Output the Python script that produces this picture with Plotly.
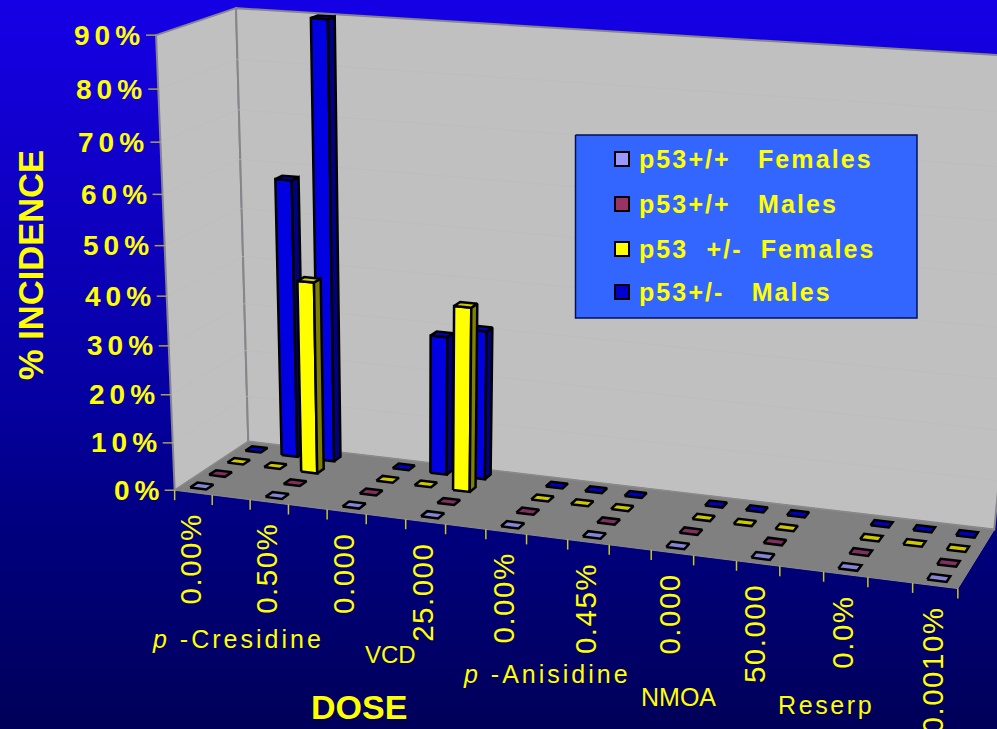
import numpy as np
import plotly.graph_objects as go

# ---- chart data -------------------------------------------------------
series_names = ["p53+/+   Females", "p53+/+   Males", "p53  +/-  Females", "p53+/-   Males"]
wt_females = [0, None, 0, None, 0, None, 0, None, 0, None, 0, None, 0, None, 0, None, 0, None, 0]
wt_males = [0, None, 0, None, 0, None, 0, None, 0, None, 0, None, 0, None, 0, None, 0, None, 0]
het_females = [0, 0, 40, None, 0, 0, 38, None, 0, 0, 0, None, 0, 0, 0, None, 0, 0, 0]
het_males = [0, 58, 90, None, 0, 29, 31, None, 0, 0, 0, None, 0, 0, 0, None, 0, 0, 0]
dose_labels = ["0.00%", "0.50%", "0.000", "25.000", "0.00%", "0.45%", "0.000", "50.000", "0.0%", "0.0010%"]
percent_ticks = [0, 10, 20, 30, 40, 50, 60, 70, 80, 90]

all_series = [wt_females, wt_males, het_females, het_males]
n_cat = len(wt_females)
n_row = len(all_series)
z_max = percent_ticks[-1]

# face colours per series: front, side, top
face_colors = [
    ("#9999FF", "#4C4C80", "#8585D8"),
    ("#993366", "#4C1933", "#7F2F60"),
    ("#FFFF00", "#808000", "#CFC800"),
    ("#0000E0", "#000080", "#0000C0"),
]
legend_colors = ["#9999FF", "#993366", "#FFFF00", "#0000CC"]
YELLOW = "#FFFF00"
WALL = "#C0C0C0"
FLOOR = "#808080"
EDGE = "#85858A"
GRID = "#BCBCBC"
TICK = "#C8C820"

# ---- view: pinhole projection of the chart box onto the page ----------
view_world = np.array([
    (0, 0, 0), (0, 0, z_max), (0, n_row, 0), (0, n_row, z_max),
    (n_cat, 0, 0), (n_cat, n_row, 0), (n_cat, n_row, z_max),
], float)
view_page = np.array([
    (175, 490), (156.5, 34), (248, 442), (235.5, 9),
    (957, 590), (995, 528), (1040, 58),
], float)


def fit_projection(world, page):
    rows, rhs = [], []
    for (X, Y, Z), (u, v) in zip(world, page):
        rows.append([X, Y, Z, 1, 0, 0, 0, 0, -u * X, -u * Y, -u * Z])
        rows.append([0, 0, 0, 0, X, Y, Z, 1, -v * X, -v * Y, -v * Z])
        rhs += [u, v]
    sol = np.linalg.lstsq(np.array(rows), np.array(rhs), rcond=None)[0]
    return np.append(sol, 1).reshape(3, 4)


PROJ = fit_projection(view_world, view_page)


def project(X, Y, Z):
    h = PROJ @ np.array([X, Y, Z, 1.0])
    return h[0] / h[2], h[1] / h[2]


def polygon(points, fill, line_color="#000000", line_width=2.5):
    xy = [project(*p) for p in points]
    xy.append(xy[0])
    return go.Scatter(
        x=[p[0] for p in xy], y=[p[1] for p in xy], mode="lines", fill="toself",
        fillcolor=fill, line=dict(color=line_color, width=line_width),
        hoverinfo="skip", showlegend=False,
    )


def segment(a, b, color, width=1):
    pa, pb = project(*a), project(*b)
    return go.Scatter(x=[pa[0], pb[0]], y=[pa[1], pb[1]], mode="lines",
                      line=dict(color=color, width=width), hoverinfo="skip", showlegend=False)


fig = go.Figure()

# vertical blue backdrop
grad_y = [0, 120, 260, 400, 530, 640, 729]
grad_v = [0, 1, 2, 3, 4, 5, 6]
grad_c = ["#1500E6", "#1200D0", "#0C00B8", "#0500A0", "#00007E", "#00006A", "#000058"]
fig.add_trace(go.Heatmap(
    x=[0, 997], y=grad_y, z=[[v, v] for v in grad_v], zsmooth="best", showscale=False,
    colorscale=[[i / 6, c] for i, c in enumerate(grad_c)], hoverinfo="skip",
))

# walls and floor
fig.add_trace(polygon([(0, 0, 0), (0, n_row, 0), (0, n_row, z_max), (0, 0, z_max)], WALL, EDGE, 2))
fig.add_trace(polygon([(0, n_row, 0), (n_cat, n_row, 0), (n_cat, n_row, z_max), (0, n_row, z_max)], WALL, EDGE, 2))
fig.add_trace(polygon([(0, 0, 0), (n_cat, 0, 0), (n_cat, n_row, 0), (0, n_row, 0)], FLOOR, "#8C8C8C", 1))

# faint gridlines on the walls
for z in percent_ticks[1:-1]:
    fig.add_trace(segment((0, 0, z), (0, n_row, z), GRID, 0.7))
    fig.add_trace(segment((0, n_row, z), (n_cat, n_row, z), GRID, 0.7))

# axis ticks
for z in percent_ticks:
    x0, y0 = project(0, 0, z)
    fig.add_trace(go.Scatter(x=[x0 - 10, x0], y=[y0, y0], mode="lines",
                             line=dict(color="#A8A050", width=1.5), hoverinfo="skip", showlegend=False))
for i in range(n_cat + 1):
    x0, y0 = project(i, 0, 0)
    fig.add_trace(go.Scatter(x=[x0, x0], y=[y0, y0 + 10], mode="lines",
                             line=dict(color=TICK, width=1.5), hoverinfo="skip", showlegend=False))

# bars, painted from the back row forward and left to right
BAR_W = 0.43
BAR_D = 0.38
BAR_C = 0.47
for r in range(n_row - 1, -1, -1):
    front, side, top = face_colors[r]
    for i, v in enumerate(all_series[r]):
        if v is None:
            continue
        x0, x1 = i + BAR_C - BAR_W / 2, i + BAR_C + BAR_W / 2
        y0, y1 = r + 0.5 - BAR_D / 2, r + 0.5 + BAR_D / 2
        if v > 0:
            fig.add_trace(polygon([(x0, y0, 0), (x1, y0, 0), (x1, y0, v), (x0, y0, v)], front))
            fig.add_trace(polygon([(x1, y0, 0), (x1, y1, 0), (x1, y1, v), (x1, y0, v)], side))
        fig.add_trace(polygon([(x0, y0, v), (x1, y0, v), (x1, y1, v), (x0, y1, v)], top))

# legend panel
LX0, LX1, LY0, LY1 = 575.5, 917, 135, 318
fig.add_trace(go.Scatter(
    x=[LX0, LX1, LX1, LX0, LX0], y=[LY0, LY0, LY1, LY1, LY0], mode="lines", fill="toself",
    fillcolor="#3366FF", line=dict(color="#00105A", width=1.5), hoverinfo="skip", showlegend=False,
))
legend_y = [159, 204, 249, 292]
fig.add_trace(go.Scatter(
    x=[622] * 4, y=legend_y, mode="markers",
    marker=dict(symbol="square", size=14, color=legend_colors, line=dict(color="#000000", width=2)),
    hoverinfo="skip", showlegend=False,
))


def spaced(text, px):
    return f'<span style="letter-spacing:{px}px">{text}</span>'


notes = []


def note(text, x, y, size, bold=False, angle=0, xa="center", ya="middle"):
    notes.append(dict(
        text=f"<b>{text}</b>" if bold else text, x=x, y=y, xref="x", yref="y", showarrow=False,
        font=dict(family="Liberation Sans", size=size, color=YELLOW), textangle=angle,
        xanchor=xa, yanchor=ya, borderpad=0, borderwidth=0,
    ))


for name, ly in zip(series_names, legend_y):
    note(spaced(name.replace(" ", "\u00a0"), 2.1), 639, ly, 25, bold=True, xa="left")

for z in percent_ticks:
    x0, y0 = project(0, 0, z)
    note(spaced(f"{z}%", 5), x0 - 11, y0, 28, bold=True, xa="right")

for k, lab in enumerate(dose_labels):
    x0, y0 = project(2 * k + 0.5, 0, 0)
    note(spaced(lab, 1.5), x0 - 3, y0 + 21, 29.5, angle=-90, ya="top")

note(spaced("<i>p</i> -Cresidine", 3), 238, 639, 25)
note("VCD", 390, 654, 24)
note(spaced("<i>p</i> -Anisidine", 3), 547, 674, 25)
note("NMOA", 678, 697, 25)
note(spaced("Reserp", 2.6), 826, 705, 25)
note("DOSE", 359, 707, 34, bold=True)
note("% INCIDENCE", 31, 265, 34.5, bold=True, angle=-90)

fig.update_layout(
    width=997, height=729, margin=dict(l=0, r=0, t=0, b=0, pad=0),
    paper_bgcolor="#000080", plot_bgcolor="#000080",
    xaxis=dict(range=[0, 997], visible=False, fixedrange=True),
    yaxis=dict(range=[729, 0], visible=False, fixedrange=True),
    annotations=notes, showlegend=False,
)
fig.write_html("out.html", config=dict(displayModeBar=False))
